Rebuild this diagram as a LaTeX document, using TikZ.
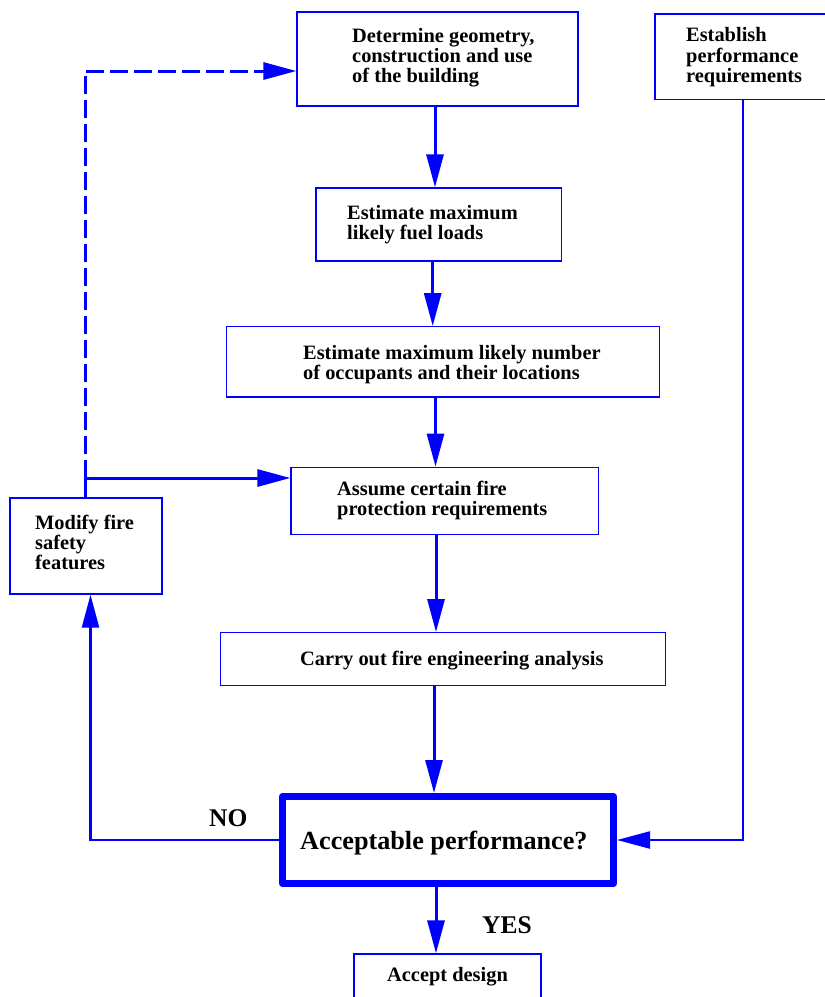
\documentclass[tikz,border=0pt]{standalone}
\usepackage{fontspec}
\setmainfont{Liberation Serif}
\usetikzlibrary{arrows.meta}
\begin{document}
\begin{tikzpicture}[x=1pt,y=-1pt,
  box/.style={draw=blue, line width=1.3pt, inner sep=0pt, rectangle},
  txt/.style={anchor=base west, inner sep=0pt, font=\fontsize{20.4}{20.3}\selectfont\bfseries},
  bigtxt/.style={anchor=base west, inner sep=0pt, font=\fontsize{26.2}{28}\selectfont\bfseries},
  lbl/.style={anchor=base west, inner sep=0pt, font=\fontsize{25.5}{28}\selectfont\bfseries},
  tip/.style={-{Triangle[length=33pt,width=17pt]}},
  arr/.style={draw=blue, line width=3pt, tip},
  thinarr/.style={draw=blue, line width=2.3pt, tip},
  dasharr/.style={draw=blue, line width=3pt, dash pattern=on 18pt off 6pt, tip}]
\clip (0,0) rectangle (825,997);
% boxes
\node[box, minimum width=281pt, minimum height=94pt] (b1) at (437.5,59) {};
\node[box, minimum width=180pt, minimum height=85.3pt] (est) at (745,56.6) {};
\node[box, minimum width=245.7pt, minimum height=73pt] (b3) at (438.8,224.5) {};
\node[box, minimum width=432.6pt, minimum height=70.3pt] (b4) at (443,361.85) {};
\node[box, minimum width=307.3pt, minimum height=67.4pt] (b5) at (444.65,501) {};
\node[box, minimum width=152pt, minimum height=96pt] (mod) at (86,546) {};
\node[box, minimum width=444.6pt, minimum height=52.6pt] (b7) at (443,659) {};
\node[box, line width=7pt, line join=round, minimum width=331pt, minimum height=87pt] (acc) at (448,840) {};
\node[box, minimum width=187pt, minimum height=56pt] (accd) at (447.5,982) {};
% texts
\node[txt] (t1) at (352,42) {\begin{tabular}[t]{@{}l@{}}Determine geometry,\\construction and use\\of the building\end{tabular}};
\node[txt] (test) at (686,41.7) {\begin{tabular}[t]{@{}l@{}}Establish\\performance\\requirements\end{tabular}};
\node[txt] (t3) at (347,219.3) {\begin{tabular}[t]{@{}l@{}}Estimate maximum\\likely fuel loads\end{tabular}};
\node[txt] (t4) at (303,359.3) {\begin{tabular}[t]{@{}l@{}}Estimate maximum likely number\\of occupants and their locations\end{tabular}};
\node[txt] (t5) at (337,495) {\begin{tabular}[t]{@{}l@{}}Assume certain fire\\protection requirements\end{tabular}};
\node[txt] (tmod) at (35,529) {\begin{tabular}[t]{@{}l@{}}Modify fire\\safety\\features\end{tabular}};
\node[txt] (t7) at (300,665) {Carry out fire engineering analysis};
\node[bigtxt] (tacc) at (300,849) {Acceptable performance?};
\node[txt] (taccd) at (387,981) {Accept design};
\node[lbl] (no) at (209,826) {NO};
\node[lbl] (yes) at (482,933) {YES};
% main chain
\draw[arr] ([xshift=-2.5pt]b1.south) -- ([xshift=-2.5pt]b1.south |- b3.north);
\draw[arr] ([xshift=-6.1pt]b3.south) -- ([xshift=-6.1pt]b3.south |- b4.north);
\draw[arr] ([xshift=-7.5pt]b4.south) -- ([xshift=-7.5pt]b4.south |- b5.north);
\draw[arr] ([xshift=-8.65pt]b5.south) -- ([xshift=-8.65pt]b5.south |- b7.north);
\draw[arr] ([xshift=-9pt]b7.south) -- ([xshift=-9pt]b7.south |- acc.north);
\draw[arr] ([xshift=-12pt]acc.south) -- ([xshift=-12pt]acc.south |- accd.north);
% feedback
\coordinate (j) at (85,478);
\coordinate (k) at (85,71);
\draw[dasharr] (j) -- (k) -- (k -| b1.west);
\draw[arr] (j |- mod.north) -- (j) -- (j -| b5.west);
\draw[thinarr] (acc.west) -| ([xshift=4.5pt]mod.south);
\draw[thinarr] ([xshift=-2.3pt]est.south) |- (acc.east);
\end{tikzpicture}
\end{document}
